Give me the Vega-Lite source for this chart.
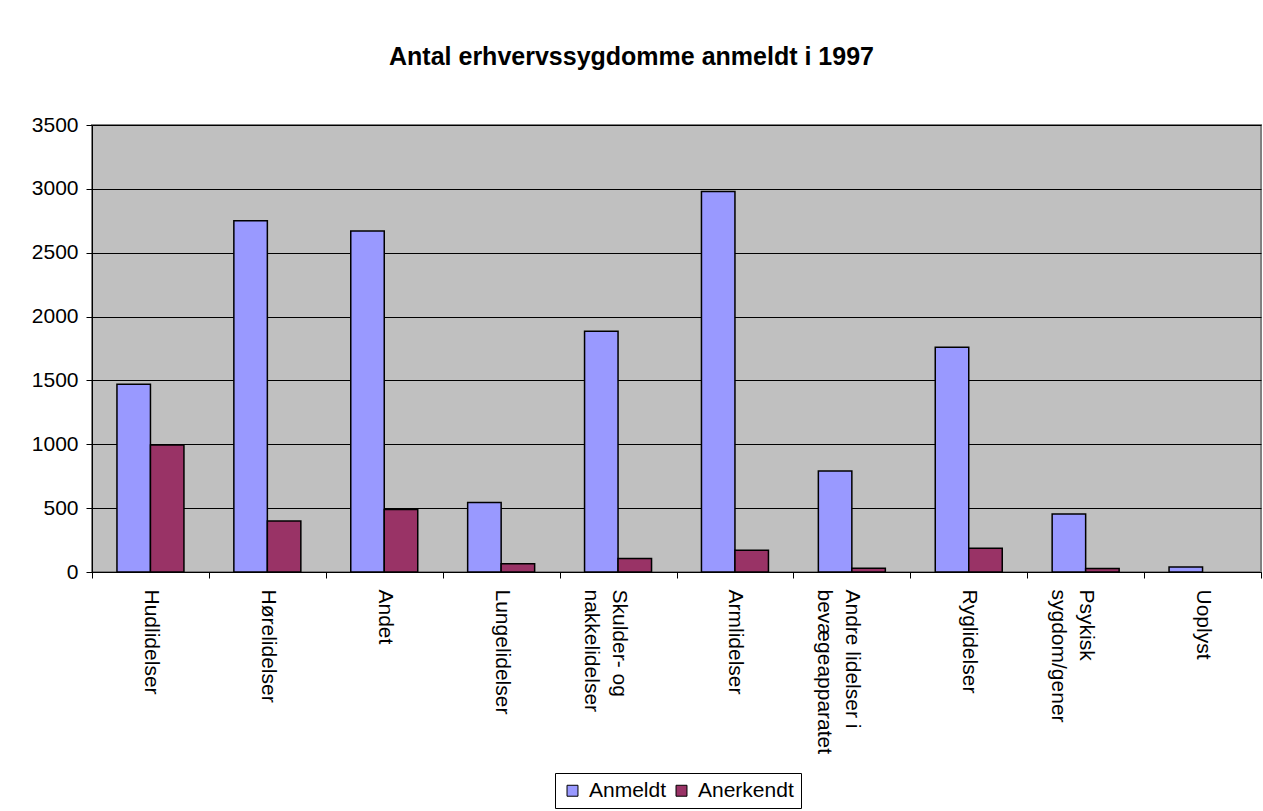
{
  "$schema": "https://vega.github.io/schema/vega-lite/v6.json",
  "width": 1169,
  "height": 447,
  "autosize": {"type": "none"},
  "padding": {"left": 92, "top": 125, "right": 2, "bottom": 239},
  "background": "white",
  "title": {
    "text": "Antal erhvervssygdomme anmeldt i 1997",
    "font": "Liberation Sans",
    "fontSize": 25,
    "fontWeight": "bold",
    "color": "black",
    "anchor": "middle",
    "frame": "group",
    "dx": -45,
    "baseline": "alphabetic",
    "offset": 24
  },
  "data": {
    "values": [
      {"kategori": "Hudlidelser", "serie": "Anmeldt", "antal": 1470},
      {"kategori": "Hudlidelser", "serie": "Anerkendt", "antal": 995},
      {"kategori": "Hørelidelser", "serie": "Anmeldt", "antal": 2750},
      {"kategori": "Hørelidelser", "serie": "Anerkendt", "antal": 400},
      {"kategori": "Andet", "serie": "Anmeldt", "antal": 2670},
      {"kategori": "Andet", "serie": "Anerkendt", "antal": 490},
      {"kategori": "Lungelidelser", "serie": "Anmeldt", "antal": 545},
      {"kategori": "Lungelidelser", "serie": "Anerkendt", "antal": 65},
      {"kategori": "Skulder- og nakkelidelser", "serie": "Anmeldt", "antal": 1885},
      {"kategori": "Skulder- og nakkelidelser", "serie": "Anerkendt", "antal": 105},
      {"kategori": "Armlidelser", "serie": "Anmeldt", "antal": 2980},
      {"kategori": "Armlidelser", "serie": "Anerkendt", "antal": 170},
      {"kategori": "Andre lidelser i bevægeapparatet", "serie": "Anmeldt", "antal": 790},
      {"kategori": "Andre lidelser i bevægeapparatet", "serie": "Anerkendt", "antal": 30},
      {"kategori": "Ryglidelser", "serie": "Anmeldt", "antal": 1760},
      {"kategori": "Ryglidelser", "serie": "Anerkendt", "antal": 185},
      {"kategori": "Psykisk sygdom/gener", "serie": "Anmeldt", "antal": 455},
      {"kategori": "Psykisk sygdom/gener", "serie": "Anerkendt", "antal": 28},
      {"kategori": "Uoplyst", "serie": "Anmeldt", "antal": 40}
    ]
  },
  "mark": {"type": "bar", "stroke": "black", "strokeWidth": 1.5},
  "encoding": {
    "x": {
      "field": "kategori",
      "type": "nominal",
      "sort": null,
      "scale": {"paddingInner": 0, "paddingOuter": 0},
      "axis": {
        "title": null,
        "labelAngle": 90,
        "labelAlign": "left",
        "labelBaseline": "middle",
        "labelFont": "Liberation Sans",
        "labelFontSize": 21,
        "labelColor": "black",
        "labelPadding": 11,
        "labelLineHeight": 28,
        "labelExpr": "datum.label == 'Skulder- og nakkelidelser' ? ['Skulder- og', 'nakkelidelser'] : datum.label == 'Andre lidelser i bevægeapparatet' ? ['Andre lidelser i', 'bevægeapparatet'] : datum.label == 'Psykisk sygdom/gener' ? ['Psykisk', 'sygdom/gener'] : datum.label",
        "tickBand": "extent",
        "tickSize": 6,
        "tickColor": "black",
        "domainColor": "black",
        "labelOverlap": false,
        "labelLimit": 0
      }
    },
    "xOffset": {
      "field": "serie",
      "type": "nominal",
      "sort": ["Anmeldt", "Anerkendt"],
      "scale": {"paddingInner": 0, "paddingOuter": 0.745}
    },
    "y": {
      "field": "antal",
      "type": "quantitative",
      "scale": {"domain": [0, 3500], "nice": false},
      "axis": {
        "title": null,
        "values": [0, 500, 1000, 1500, 2000, 2500, 3000, 3500],
        "format": "d",
        "labelFont": "Liberation Sans",
        "labelFontSize": 21,
        "labelColor": "black",
        "labelPadding": 8,
        "tickSize": 6,
        "tickColor": "black",
        "domainColor": "black",
        "gridColor": "black",
        "gridOpacity": 1,
        "gridWidth": 1
      }
    },
    "color": {
      "field": "serie",
      "type": "nominal",
      "sort": ["Anmeldt", "Anerkendt"],
      "scale": {"domain": ["Anmeldt", "Anerkendt"], "range": ["#9999FF", "#993366"]},
      "legend": {
        "title": null,
        "orient": "none",
        "direction": "horizontal",
        "legendX": 463,
        "legendY": 648,
        "strokeColor": "black",
        "fillColor": "white",
        "padding": 7,
        "symbolType": "square",
        "symbolSize": 120,
        "symbolStrokeColor": "black",
        "symbolStrokeWidth": 1,
        "symbolOpacity": 1,
        "labelFont": "Liberation Sans",
        "labelFontSize": 21,
        "labelColor": "black",
        "columnPadding": 4,
        "labelOffset": 6
      }
    }
  },
  "config": {
    "view": {"fill": "#C0C0C0", "stroke": "#808080", "strokeWidth": 2}
  }
}
